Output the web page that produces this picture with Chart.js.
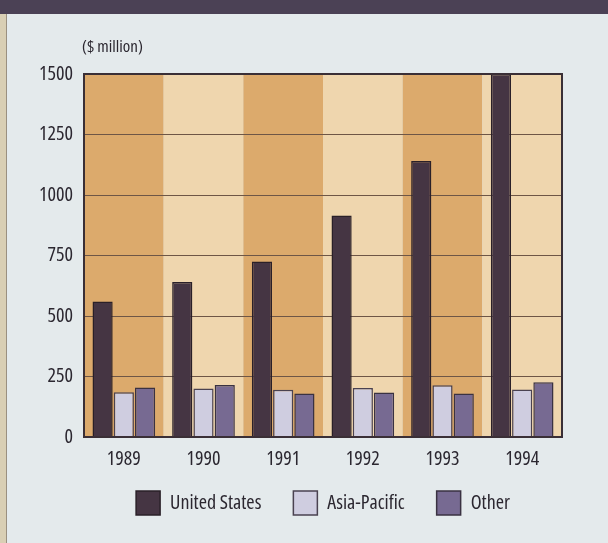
<!DOCTYPE html>
<html>
<head>
<meta charset="utf-8">
<script src="https://cdn.jsdelivr.net/npm/chart.js@4.4.1/dist/chart.umd.min.js"></script>
<style>
  html, body { margin: 0; padding: 0; background: #e4eaec; }
  #wrap { position: relative; width: 608px; height: 543px; overflow: hidden; background: #e4eaec; }
  #topband { position: absolute; left: 0; top: 0; width: 608px; height: 14px; background: #4b4155; }
  #edge { position: absolute; left: 0; top: 0; width: 6px; height: 543px; background: #d9cfb4; border-right: 1px solid #9a9080; }
  canvas { position: absolute; left: 0; top: 0; }
</style>
</head>
<body>
<div id="wrap">
  <canvas id="chart" width="608" height="543"></canvas>
  <div id="edge"></div>
  <div id="topband"></div>
</div>
<script>
// Revenue by region, 1989-1994 ($ million)
const years = ["1989", "1990", "1991", "1992", "1993", "1994"];
const unitedStates = [560, 640, 725, 915, 1140, 1500];
const asiaPacific = [185, 200, 195, 202, 214, 196];
const other = [205, 215, 180, 184, 180, 226];
const yTicks = [0, 250, 500, 750, 1000, 1250, 1500];

const FONT = "'Open Sans', 'DejaVu Sans', sans-serif";
const WEIGHT = "500 condensed";   // narrow face for all labels
const TEXT = "#2b2730";
const bandColors = ["#dcaa6c", "#efd6ae"];
const frameColor = "#3a2f36";

// Category axis whose year labels may extend below the axis box
// (the box is kept short so the legend can sit close underneath).
class YearScale extends Chart.CategoryScale {
  _computeLabelArea() { return undefined; }
}
YearScale.id = "year";
Chart.register(YearScale);

// Alternating column bands behind each year, plus the frame and unit label
const bandsPlugin = {
  id: "bands",
  beforeDraw(chart) {
    const { ctx, chartArea, scales } = chart;
    const x = scales.x;
    const half = (x.getPixelForValue(1) - x.getPixelForValue(0)) / 2;
    ctx.save();
    years.forEach((y, i) => {
      const c = x.getPixelForValue(i);
      const l = Math.max(chartArea.left, c - half);
      const r = Math.min(chartArea.right, c + half);
      ctx.fillStyle = bandColors[i % 2];
      ctx.fillRect(l, chartArea.top, r - l, chartArea.bottom - chartArea.top);
    });
    ctx.restore();
  },
  afterDraw(chart) {
    const { ctx, chartArea } = chart;
    ctx.save();
    ctx.strokeStyle = frameColor;
    ctx.lineWidth = 2;
    ctx.strokeRect(chartArea.left, chartArea.top, chartArea.right - chartArea.left, chartArea.bottom - chartArea.top);
    ctx.fillStyle = TEXT;
    ctx.font = WEIGHT + " 17px " + FONT;
    ctx.textBaseline = "middle";
    ctx.textAlign = "left";
    ctx.fillText("($ million)", chartArea.left - 2, 47);
    ctx.restore();
  }
};

new Chart(document.getElementById("chart"), {
  type: "bar",
  data: {
    labels: years,
    datasets: [
      { label: "United States", data: unitedStates, backgroundColor: "#453543", borderColor: "#2a2028", borderWidth: 1.5 },
      { label: "Asia-Pacific", data: asiaPacific, backgroundColor: "#cfcde0", borderColor: "#4a4250", borderWidth: 1.5 },
      { label: "Other", data: other, backgroundColor: "#776a92", borderColor: "#3a3242", borderWidth: 1.5 }
    ]
  },
  options: {
    responsive: false,
    animation: false,
    devicePixelRatio: 1,
    layout: { padding: { left: 24, right: 46, top: 74, bottom: 18 } },
    datasets: { bar: { categoryPercentage: 0.8, barPercentage: 0.95 } },
    scales: {
      x: {
        type: "year",
        afterFit(axis) { axis.height = 22; },
        grid: { display: false, drawTicks: false },
        border: { display: false },
        ticks: { color: TEXT, font: { family: FONT, size: 20, weight: WEIGHT }, padding: 10 }
      },
      y: {
        min: 0,
        max: 1500,
        afterFit(axis) { axis.width = 60; },
        afterBuildTicks(axis) { axis.ticks = yTicks.map(v => ({ value: v })); },
        grid: { color: "#6e5646", lineWidth: 1, drawTicks: false },
        border: { display: false },
        ticks: {
          color: TEXT,
          font: { family: FONT, size: 20, weight: WEIGHT },
          padding: 11,
          callback: v => String(v)
        }
      }
    },
    plugins: {
      legend: {
        position: "bottom",
        fullSize: false,
        labels: {
          color: TEXT,
          font: { family: FONT, size: 20, weight: WEIGHT },
          boxWidth: 24,
          boxHeight: 24,
          padding: 32
        }
      },
      tooltip: { enabled: false }
    }
  },
  plugins: [bandsPlugin]
});
</script>
</body>
</html>
